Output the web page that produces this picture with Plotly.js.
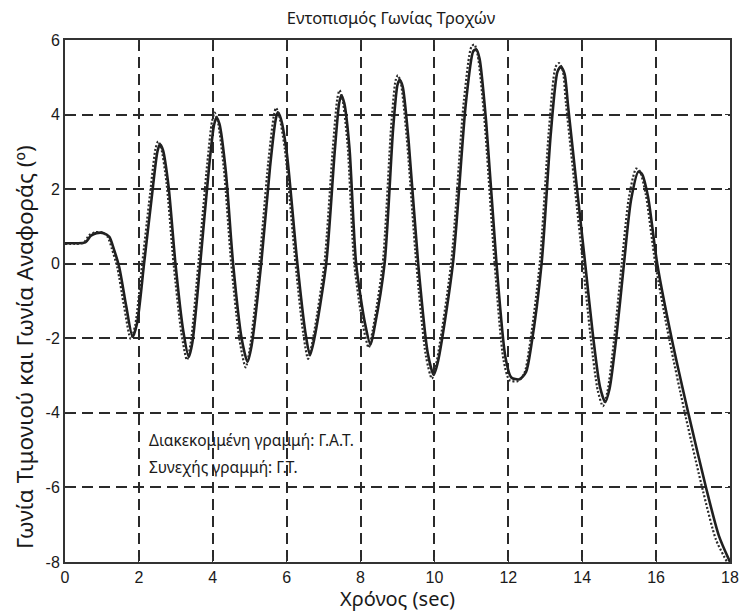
<!DOCTYPE html>
<html>
<head>
<meta charset="utf-8">
<script src="https://cdn.plot.ly/plotly-3.0.1.min.js"></script>
<style>html,body{margin:0;padding:0;background:#fff;}#chart{width:740px;height:612px;}</style>
</head>
<body>
<div id="chart"></div>
<script>
// Γ.Τ. (solid line) — time (sec) and angle (deg)
const gtTime = [
  0, 0.3, 0.55, 0.7, 0.85, 1.05, 1.2, 1.32, 1.47, 1.65,
  1.83, 1.95, 2.14, 2.35, 2.5, 2.57, 2.65, 2.8, 2.99, 3.2,
  3.35, 3.45, 3.66, 3.9, 4.03, 4.1, 4.18, 4.35, 4.55, 4.78,
  4.94, 5.05, 5.31, 5.55, 5.7, 5.76, 5.84, 6.0, 6.29, 6.5,
  6.63, 6.75, 7.07, 7.3, 7.42, 7.48, 7.56, 7.7, 7.88, 8.12,
  8.27, 8.38, 8.65, 8.88, 9.0, 9.06, 9.14, 9.3, 9.56, 9.82,
  9.98, 10.1, 10.5, 10.85, 11.05, 11.13, 11.22, 11.4, 11.68, 11.92,
  12.08, 12.3, 12.48, 12.62, 12.9, 13.15, 13.33, 13.42, 13.52, 13.62,
  13.86, 14.08, 14.3, 14.48, 14.62, 14.74, 14.92, 15.13, 15.32, 15.52,
  15.62, 15.78, 16.03, 16.42, 16.87, 17.35, 17.7, 18.0
];
const gtAngle = [
  0.55, 0.55, 0.57, 0.75, 0.82, 0.82, 0.72, 0.4, -0.1, -1.1,
  -1.96, -1.6, 0, 1.8, 3.0, 3.2, 3.05, 2.1, 0, -1.8,
  -2.5, -2.1, 0, 2.6, 3.7, 3.93, 3.75, 2.5, 0, -2.0,
  -2.63, -2.2, 0, 2.6, 3.85, 4.06, 3.9, 3.0, 0, -1.8,
  -2.45, -2.0, 0, 3.0, 4.3, 4.52, 4.3, 3.1, 0, -1.6,
  -2.17, -1.7, 0, 3.6, 4.8, 4.93, 4.75, 3.3, 0, -2.4,
  -2.98, -2.6, 0, 4.3, 5.7, 5.75, 5.5, 3.8, 0, -2.5,
  -3.05, -3.1, -2.9, -2.2, 0, 3.5, 5.15, 5.28, 5.1, 4.2,
  2.0, 0, -2.0, -3.3, -3.71, -3.35, -2.0, 0, 1.7, 2.47,
  2.4, 1.8, 0, -2.0, -4.0, -6.0, -7.3, -8.0
];
// Γ.Α.Τ. (dotted line) — reference angle
const gatTime = [
  0, 0.26, 0.5, 0.65, 0.8, 1.0, 1.15, 1.27, 1.42, 1.6,
  1.78, 1.9, 2.09, 2.3, 2.45, 2.52, 2.6, 2.75, 2.94, 3.15,
  3.3, 3.4, 3.61, 3.85, 3.98, 4.05, 4.13, 4.3, 4.5, 4.73,
  4.89, 5.0, 5.26, 5.5, 5.65, 5.71, 5.79, 5.95, 6.24, 6.45,
  6.58, 6.7, 7.02, 7.25, 7.37, 7.43, 7.51, 7.65, 7.83, 8.07,
  8.22, 8.33, 8.6, 8.83, 8.95, 9.01, 9.09, 9.25, 9.51, 9.77,
  9.93, 10.05, 10.45, 10.8, 11.0, 11.08, 11.17, 11.35, 11.63, 11.87,
  12.03, 12.25, 12.43, 12.57, 12.85, 13.1, 13.28, 13.37, 13.47, 13.56,
  13.8, 14.02, 14.24, 14.42, 14.56, 14.68, 14.86, 15.07, 15.26, 15.46,
  15.56, 15.72, 15.98, 16.36, 16.8, 17.27, 17.62, 17.92
];
const gatAngle = [
  0.53, 0.53, 0.56, 0.76, 0.84, 0.84, 0.73, 0.4, -0.12, -1.15,
  -2.02, -1.65, 0, 1.85, 3.08, 3.28, 3.12, 2.15, 0, -1.85,
  -2.58, -2.15, 0, 2.68, 3.82, 4.05, 3.85, 2.55, 0, -2.08,
  -2.78, -2.3, 0, 2.7, 3.95, 4.18, 4.0, 3.08, 0, -1.88,
  -2.55, -2.08, 0, 3.1, 4.42, 4.65, 4.42, 3.18, 0, -1.68,
  -2.25, -1.78, 0, 3.7, 4.92, 5.05, 4.85, 3.38, 0, -2.48,
  -3.08, -2.68, 0, 4.4, 5.82, 5.88, 5.6, 3.9, 0, -2.58,
  -3.12, -3.15, -2.95, -2.25, 0, 3.6, 5.28, 5.38, 5.2, 4.3,
  2.05, 0, -2.08, -3.4, -3.82, -3.45, -2.06, 0, 1.75, 2.55,
  2.48, 1.86, 0, -2.05, -4.1, -6.1, -7.4, -8.0
];
const xTicks = [0, 2, 4, 6, 8, 10, 12, 14, 16, 18];
const yTicks = [-8, -6, -4, -2, 0, 2, 4, 6];

const titleText = 'Εντοπισμός Γωνίας Τροχών';
const xTitle = 'Χρόνος (sec)';
const yTitle = 'Γωνία Τιμονιού και Γωνία Αναφοράς (º)';
const note1 = 'Διακεκομμένη γραμμή: Γ.Α.Τ.';
const note2 = 'Συνεχής γραμμή: Γ.Τ.';

const textFont = '"Noto Sans", "Open Sans", sans-serif';
const tickFont = {family: '"Liberation Sans", Arial, sans-serif', size: 16, color: '#1a1a1a'};

const traces = [
  {x: gtTime, y: gtAngle, type: 'scatter', mode: 'lines', name: 'Γ.Τ.',
   line: {color: '#1f1f1f', width: 2.6, shape: 'spline', smoothing: 0.7}},
  {x: gatTime, y: gatAngle, type: 'scatter', mode: 'lines', name: 'Γ.Α.Τ.',
   line: {color: '#2a2a2a', width: 2.2, dash: '2px,2px', shape: 'spline', smoothing: 0.7}}
];

const axisCommon = {
  showline: true, linecolor: '#333', linewidth: 2, mirror: 'allticks',
  ticks: 'inside', ticklen: 5, tickcolor: '#333', tickwidth: 1,
  showgrid: true, gridcolor: '#2a2a2a', gridwidth: 2, griddash: '11px,6px',
  zeroline: false, tickfont: tickFont
};

const layout = {
  width: 740, height: 612,
  margin: {l: 65, r: 10, t: 40, b: 50},
  paper_bgcolor: '#fff', plot_bgcolor: '#fff',
  showlegend: false,
  title: {text: titleText, font: {family: textFont, size: 16.5, color: '#1a1a1a'},
          x: 391/740, xanchor: 'center', xref: 'container',
          y: 1 - 18/612, yanchor: 'middle', yref: 'container'},
  xaxis: Object.assign({}, axisCommon, {
    range: [0, 18], tickvals: xTicks, ticktext: xTicks.map(String),
    title: {text: xTitle, font: {family: textFont, size: 20, color: '#1a1a1a'}, standoff: 3}
  }),
  yaxis: Object.assign({}, axisCommon, {
    range: [-8, 6], tickvals: yTicks, ticktext: yTicks.map(String)
  }),
  annotations: [
    {text: yTitle, textangle: -90, xref: 'paper', yref: 'paper',
     x: (24 - 65) / 665, y: (562 - 347) / 522, xanchor: 'center', yanchor: 'middle',
     showarrow: false, font: {family: textFont, size: 22.5, color: '#1a1a1a'}},
    {text: note1, xref: 'paper', yref: 'paper', x: (147 - 65) / 665, y: (562 - 440) / 522,
     xanchor: 'left', yanchor: 'middle', showarrow: false,
     font: {family: textFont, size: 15.5, color: '#1a1a1a'}},
    {text: note2, xref: 'paper', yref: 'paper', x: (147 - 65) / 665, y: (562 - 467) / 522,
     xanchor: 'left', yanchor: 'middle', showarrow: false,
     font: {family: textFont, size: 15.5, color: '#1a1a1a'}}
  ]
};

Plotly.newPlot('chart', traces, layout, {staticPlot: true, displayModeBar: false});
</script>
</body>
</html>
